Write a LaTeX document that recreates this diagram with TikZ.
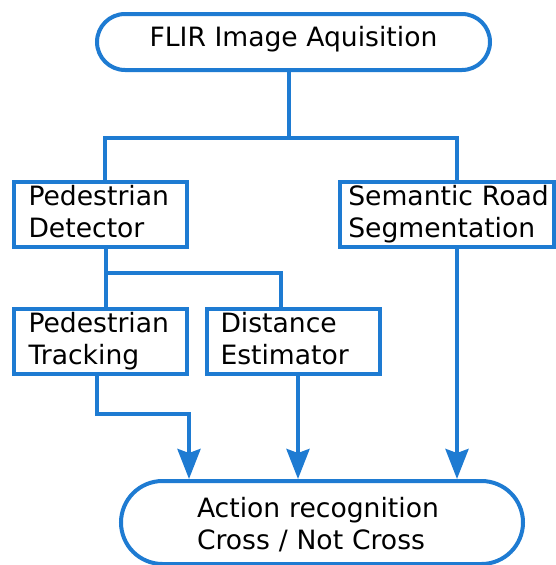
\documentclass[tikz,border=0pt]{standalone}
\usepackage{fontspec}
\setmainfont{DejaVu Sans}
\usetikzlibrary{shapes.misc,arrows.meta}
\definecolor{flowblue}{RGB}{30,123,210}
\newcommand{\lowstrut}{\vphantom{g}}
\begin{document}
\begin{tikzpicture}[x=1pt,y=-1pt,
  every node/.style={font=\fontsize{26.6}{32}\selectfont},
  box/.style={draw=flowblue, line width=4pt, rectangle, align=left, minimum height=65pt, inner ysep=0pt},
  term/.style={draw=flowblue, line width=4pt, rounded rectangle, inner sep=0pt},
  conn/.style={draw=flowblue, line width=4pt},
  arr/.style={conn, -{Stealth[length=30pt,width=23pt,inset=4pt]}}]
\useasboundingbox (0,0) rectangle (556,565);

\node[term, minimum width=393pt, minimum height=56pt, text height=14pt, text depth=6pt] (top) at (293.5,42) {FLIR Image Aquisition};

\node[box, text width=144pt, inner xsep=14.5pt] (det) at (100.5,214.5) {Pedestrian\\Detector\lowstrut};
\node[box, text width=197.4pt, inner xsep=8.3pt] (sem) at (447,214.5) {\mbox{Semantic Road}\\Segmentation\lowstrut};
\node[box, text width=144pt, inner xsep=14.5pt] (trk) at (100.5,341.5) {Pedestrian\\Tracking\lowstrut};
\node[box, text width=146pt, inner xsep=13.5pt] (dst) at (293.5,341.5) {Distance\\Estimator\lowstrut};

\node[term, align=left, text width=250pt, minimum width=402pt, minimum height=83pt] (act) at (322,522.5) {\rule{0pt}{28pt}\mbox{Action recognition}\\\mbox{Cross / Not Cross}\lowstrut};

\coordinate (ja) at (289,138);
\coordinate (jl) at (105,138);
\coordinate (jr) at (457,138);
\draw[conn] (top.south -| ja) -- (ja);
\draw[conn] (det.north -| jl) -- (jl) -- (jr) -- (sem.north -| jr);

\coordinate (jd) at (106,273);
\coordinate (jd2) at (281,273);
\draw[conn] (det.south -| jd) -- (trk.north -| jd);
\draw[conn] (jd) -- (jd2) -- (dst.north -| jd2);

\coordinate (jt) at (97,414);
\coordinate (jt2) at (189,414);
\coordinate (xd) at (298,0);
\draw[arr] (trk.south -| jt) -- (jt) -- (jt2) -- (act.north -| jt2);
\draw[arr] (dst.south -| xd) -- (act.north -| xd);
\draw[arr] (sem.south -| jr) -- (act.north -| jr);
\end{tikzpicture}
\end{document}
